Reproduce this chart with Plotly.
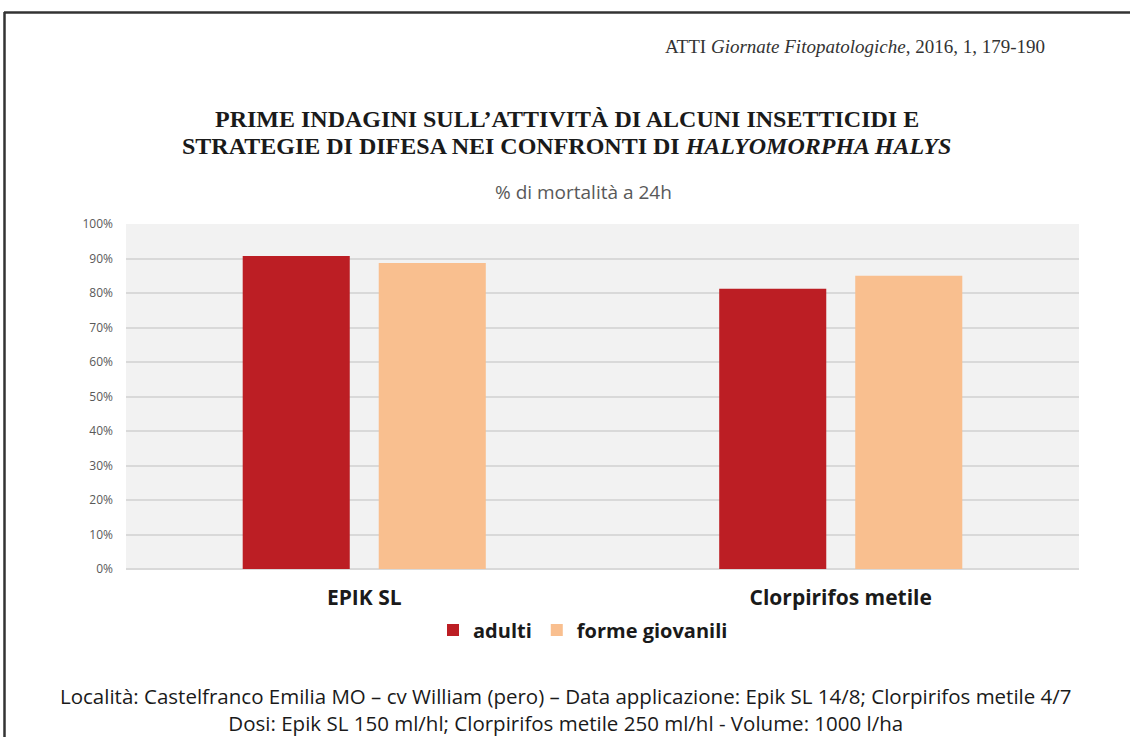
import plotly.graph_objects as go

categories = ["EPIK SL", "Clorpirifos metile"]
adulti = [0.907, 0.812]
giovanili = [0.887, 0.850]
series_names = ["adulti", "forme giovanili"]
tick_vals = [0, 0.1, 0.2, 0.3, 0.4, 0.5, 0.6, 0.7, 0.8, 0.9, 1.0]
tick_text = ["0%", "10%", "20%", "30%", "40%", "50%", "60%", "70%", "80%", "90%", "100%"]

W, H = 1130, 737
L, R, T, B = 126, 51, 224, 168
pw, ph = W - L - R, H - T - B


def px(x):
    return (x - L) / pw


def py(y):
    return (H - B - y) / ph


fig = go.Figure()
fig.add_trace(go.Bar(x=categories, y=adulti, name=series_names[0],
                     marker=dict(color="#BC1E24", line=dict(width=0))))
fig.add_trace(go.Bar(x=categories, y=giovanili, name=series_names[1],
                     marker=dict(color="#F9BF8F", line=dict(width=0))))

fig.update_layout(
    width=W, height=H,
    margin=dict(l=L, r=R, t=T, b=B),
    paper_bgcolor="white",
    plot_bgcolor="#F2F2F2",
    barmode="group",
    bargap=0.429,
    bargroupgap=0.213,
    showlegend=True,
    legend=dict(orientation="h", x=px(583), xanchor="center", y=py(630), yanchor="middle",
                font=dict(family="Open Sans, sans-serif", size=20, color="#1a1a1a", weight="bold"),
                itemwidth=30, traceorder="normal", bgcolor="rgba(0,0,0,0)"),
    xaxis=dict(showgrid=False, showline=False, ticks="", ticklabelstandoff=14,
               tickfont=dict(family="Open Sans, sans-serif", size=21, color="#1a1a1a", weight="bold")),
    yaxis=dict(range=[0, 1.0], tickvals=tick_vals, ticktext=tick_text,
               showgrid=True, gridcolor="#D9D9D9", gridwidth=1.5, zeroline=True, zerolinecolor="#D9D9D9",
               zerolinewidth=1.5, showline=False, ticks="", ticklabelstandoff=12,
               tickfont=dict(family="Open Sans, sans-serif", size=12, color="#595959")),
    font=dict(family="Open Sans, sans-serif"),
)

annotations = [
    dict(text="ATTI <i>Giornate Fitopatologiche</i>, 2016, 1, 179-190", x=px(1047), y=py(46),
         xanchor="right", yanchor="middle",
         font=dict(family="Liberation Serif, serif", size=19, color="#333")),
    dict(text="<b>PRIME INDAGINI SULL’ATTIVITÀ DI ALCUNI INSETTICIDI E</b>", x=px(567), y=py(119),
         xanchor="center", yanchor="middle",
         font=dict(family="Liberation Serif, serif", size=24, color="#1a1a1a")),
    dict(text="<b>STRATEGIE DI DIFESA NEI CONFRONTI DI <i>HALYOMORPHA HALYS</i></b>", x=px(566), y=py(146),
         xanchor="center", yanchor="middle",
         font=dict(family="Liberation Serif, serif", size=24, color="#1a1a1a")),
    dict(text="% di mortalità a 24h", x=px(583), y=py(192), xanchor="center", yanchor="middle",
         font=dict(family="Open Sans, sans-serif", size=19, color="#595959")),
    dict(text="Località: Castelfranco Emilia MO – cv William (pero) – Data applicazione: Epik SL 14/8; Clorpirifos metile 4/7"
              "<br>Dosi: Epik SL 150 ml/hl; Clorpirifos metile 250 ml/hl - Volume: 1000 l/ha",
         x=px(566), y=py(709), xanchor="center", yanchor="middle", align="center",
         font=dict(family="Open Sans, sans-serif", size=20.5, color="#1a1a1a")),
]
for a in annotations:
    a.update(xref="paper", yref="paper", showarrow=False)
fig.update_layout(annotations=annotations)

fig.add_shape(type="line", xref="paper", yref="paper", x0=px(4), x1=px(1130), y0=py(12.5), y1=py(12.5),
              line=dict(color="#333", width=2.5))
fig.add_shape(type="line", xref="paper", yref="paper", x0=px(4.5), x1=px(4.5), y0=py(12), y1=py(737),
              line=dict(color="#333", width=2.5))

fig.write_html("out.html", config={"displayModeBar": False},
               post_script="document.body.style.margin='0';document.body.style.overflow='hidden';")
